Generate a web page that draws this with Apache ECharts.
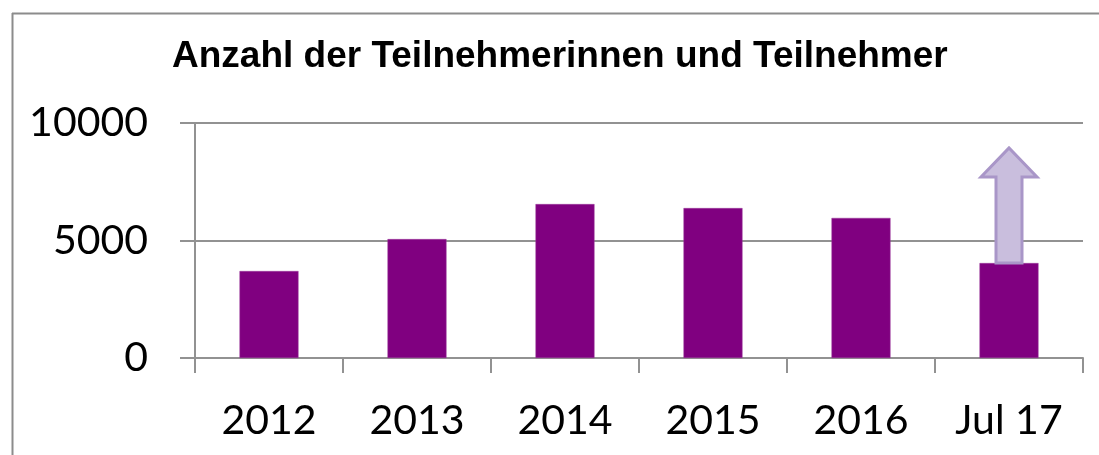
<!DOCTYPE html>
<html>
<head>
<meta charset="utf-8">
<script src="https://cdn.jsdelivr.net/npm/echarts@6/dist/echarts.min.js"></script>
<style>
  html, body { margin: 0; padding: 0; background: #fff; overflow: hidden; }
  #chart-container { width: 1099px; height: 455px; }
</style>
</head>
<body>
<div id="chart-container"></div>
<script>
const categories = ["2012", "2013", "2014", "2015", "2016", "Jul 17"]
const participants = [3700, 5060, 6550, 6380, 5960, 4040]
// arrow on the last bar: [category, start, head base, tip]
const arrowData = [["Jul 17", 4040, 7700, 8940]]
const yTicks = [0, 5000, 10000]

const gray = "#929292"
const labelFont = "Lato"

var dom = document.getElementById("chart-container")
var myChart = echarts.init(dom, null, { renderer: "canvas" })

var option = {
  animation: false,
  backgroundColor: "#fff",
  title: {
    text: "Anzahl der Teilnehmerinnen und Teilnehmer",
    left: 172,
    top: 38,
    padding: 0,
    textStyle: {
      fontFamily: "Liberation Sans",
      fontWeight: "bold",
      fontSize: 37,
      color: "#000"
    }
  },
  // outer frame: only left and top edges are inside the picture
  graphic: [
    {
      type: "line",
      shape: { x1: 12.5, y1: 13, x2: 12.5, y2: 455 },
      style: { stroke: "#8c8c8c", lineWidth: 2 },
      silent: true
    },
    {
      type: "line",
      shape: { x1: 12, y1: 13.5, x2: 1099, y2: 13.5 },
      style: { stroke: "#8c8c8c", lineWidth: 2 },
      silent: true
    }
  ],
  grid: {
    left: 195,
    right: 16,
    top: 123,
    bottom: 97
  },
  xAxis: {
    type: "category",
    data: categories,
    axisLine: { lineStyle: { color: gray, width: 2 } },
    axisTick: { show: true, length: 15, lineStyle: { color: gray, width: 2 } },
    axisLabel: {
      fontFamily: labelFont,
      fontSize: 41,
      color: "#000",
      margin: 42
    }
  },
  yAxis: {
    type: "value",
    min: yTicks[0],
    max: yTicks[yTicks.length - 1],
    interval: yTicks[1] - yTicks[0],
    axisLine: { show: true, lineStyle: { color: gray, width: 2 } },
    axisTick: { show: true, length: 15, lineStyle: { color: gray, width: 2 } },
    splitLine: { lineStyle: { color: gray, width: 2 } },
    axisLabel: {
      fontFamily: labelFont,
      fontSize: 41,
      color: "#000",
      margin: 47,
      formatter: (v) => String(v)
    }
  },
  series: [
    {
      type: "bar",
      data: participants,
      barWidth: 59,
      itemStyle: { color: "#800080", borderColor: "#9a3a9a", borderWidth: 0.5 }
    },
    {
      type: "custom",
      data: arrowData,
      z: 5,
      renderItem: (params, api) => {
        const bottom = api.coord([api.value(0), api.value(1)])
        const base = api.coord([api.value(0), api.value(2)])
        const tip = api.coord([api.value(0), api.value(3)])
        const cx = bottom[0]
        const shaft = 13
        const head = 28
        return {
          type: "polygon",
          shape: {
            points: [
              [cx - shaft, bottom[1]],
              [cx - shaft, base[1]],
              [cx - head, base[1]],
              [cx, tip[1]],
              [cx + head, base[1]],
              [cx + shaft, base[1]],
              [cx + shaft, bottom[1]]
            ]
          },
          style: { fill: "#c9bedd", stroke: "#a996c8", lineWidth: 3 }
        }
      }
    }
  ]
}

myChart.setOption(option)
window.addEventListener("resize", myChart.resize)
</script>
</body>
</html>
